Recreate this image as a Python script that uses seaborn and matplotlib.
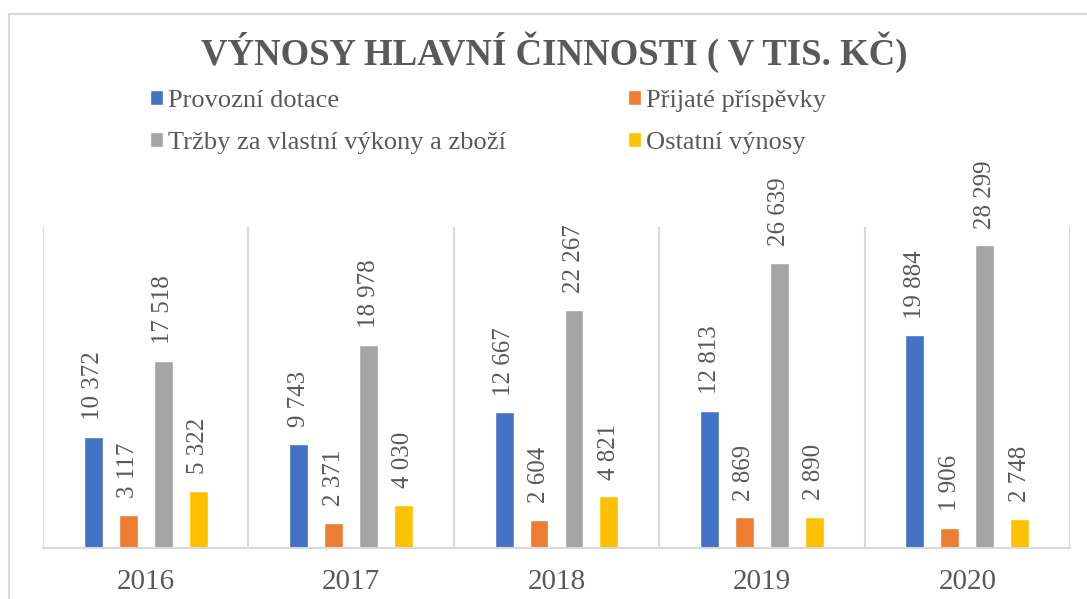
import pandas as pd
import numpy as np
import matplotlib.pyplot as plt
import seaborn as sns
from matplotlib.patches import Rectangle

# data
roky = ["2016", "2017", "2018", "2019", "2020"]
polozky = ["Provozní dotace", "Přijaté příspěvky",
           "Tržby za vlastní výkony a zboží", "Ostatní výnosy"]
provozni_dotace = [10372, 9743, 12667, 12813, 19884]
prijate_prispevky = [3117, 2371, 2604, 2869, 1906]
trzby = [17518, 18978, 22267, 26639, 28299]
ostatni = [5322, 4030, 4821, 2890, 2748]
barvy = ["#4472C4", "#ED7D31", "#A5A5A5", "#FFC000"]

df = pd.DataFrame({
    "rok": roky * 4,
    "polozka": np.repeat(polozky, len(roky)),
    "hodnota": provozni_dotace + prijate_prispevky + trzby + ostatni,
})

sns.set_theme(style="white")
plt.rcParams["font.family"] = ["Liberation Serif", "DejaVu Serif"]
TXT = "#595959"
GRID = "#D9D9D9"

fig = plt.figure(figsize=(10.87, 5.99), dpi=100)
ax = fig.add_axes([43 / 1087, 51 / 599, 1027 / 1087, 321 / 599])

sns.barplot(data=df, x="rok", y="hodnota", hue="polozka", palette=barvy,
            width=0.68, gap=0.46, saturation=1, ax=ax)

# popisky hodnot
for cont in ax.containers:
    vals = [int(b.get_height()) for b in cont]
    ax.bar_label(cont, labels=[f"{v:,}".replace(",", " ") for v in vals],
                 rotation=90, padding=12, fontsize=18, color=TXT)

ax.set_xlim(-0.5, 4.5)
ax.set_ylim(0, 30000)
for x in np.arange(-0.5, 5, 1):
    ax.axvline(x, color=GRID, lw=1.5, zorder=0)
for s in ["top", "right", "left"]:
    ax.spines[s].set_visible(False)
ax.spines["bottom"].set_color(GRID)
ax.spines["bottom"].set_linewidth(1.5)
ax.set_yticks([])
ax.set_xlabel("")
ax.set_ylabel("")
ax.tick_params(axis="x", length=0, pad=15, labelsize=21, labelcolor=TXT)

# legenda - poradi po radcich
h, l = ax.get_legend_handles_labels()
ax.get_legend().remove()
order = [0, 2, 1, 3]
fig.legend([h[i] for i in order], [l[i] for i in order], loc="upper left",
           bbox_to_anchor=(150 / 1087, 1 - 90 / 599),
           ncol=2, frameon=False, fontsize=19, labelcolor=TXT,
           handlelength=0.5, handleheight=0.5, handletextpad=0.2,
           columnspacing=4.6, labelspacing=0.75, borderpad=0, borderaxespad=0)

fig.text(554 / 1087, 1 - 52 / 599, "VÝNOSY HLAVNÍ ČINNOSTI ( V TIS. KČ)",
         ha="center", va="center", fontsize=26.5, fontweight="bold", color=TXT)

# ramecek grafu
fig.patches.append(Rectangle((9 / 1087, -0.1), 1.2, 1.1 - 14 / 599,
                             transform=fig.transFigure, fill=False,
                             ec=GRID, lw=1.5))

fig.savefig("out.png", dpi=100)
